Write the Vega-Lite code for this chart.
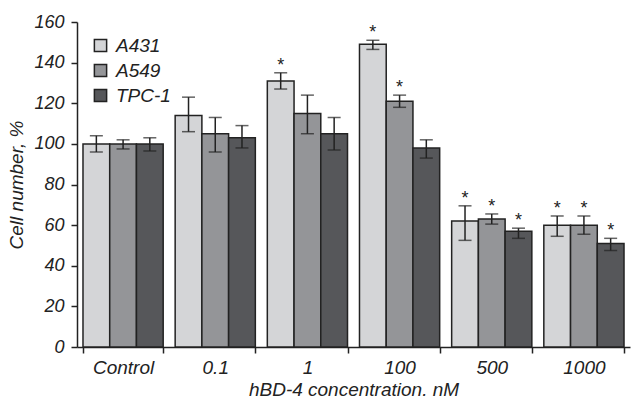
{
  "$schema": "https://vega.github.io/schema/vega-lite/v6.json",
  "width": 553,
  "height": 325,
  "autosize": {"type": "none"},
  "padding": {"left": 77, "top": 22, "right": 1, "bottom": 53},
  "background": "white",
  "config": {
    "font": "Liberation Sans, Arial, sans-serif",
    "view": {"stroke": null},
    "axis": {"grid": false, "domainColor": "#222", "tickColor": "#222", "domainWidth": 1.5, "tickWidth": 1.5, "labelColor": "#222", "titleColor": "#222", "labelFontStyle": "italic", "titleFontStyle": "italic", "titleFontWeight": "normal", "labelFontSize": 18, "titleFontSize": 19}
  },
  "data": {
    "values": [
      {"conc": "Control", "line": "A431", "value": 100, "lo": 96, "hi": 104, "sig": false},
      {"conc": "Control", "line": "A549", "value": 100, "lo": 97.5, "hi": 102, "sig": false},
      {"conc": "Control", "line": "TPC-1", "value": 100, "lo": 96.5, "hi": 103, "sig": false},
      {"conc": "0.1", "line": "A431", "value": 114, "lo": 106, "hi": 123, "sig": false},
      {"conc": "0.1", "line": "A549", "value": 105, "lo": 96, "hi": 113, "sig": false},
      {"conc": "0.1", "line": "TPC-1", "value": 103, "lo": 98, "hi": 109, "sig": false},
      {"conc": "1", "line": "A431", "value": 131, "lo": 127, "hi": 135, "sig": true},
      {"conc": "1", "line": "A549", "value": 115, "lo": 105, "hi": 124, "sig": false},
      {"conc": "1", "line": "TPC-1", "value": 105, "lo": 97, "hi": 113, "sig": false},
      {"conc": "100", "line": "A431", "value": 149, "lo": 146.5, "hi": 151, "sig": true},
      {"conc": "100", "line": "A549", "value": 121, "lo": 118, "hi": 124, "sig": true},
      {"conc": "100", "line": "TPC-1", "value": 98, "lo": 93, "hi": 102, "sig": false},
      {"conc": "500", "line": "A431", "value": 62, "lo": 52.5, "hi": 69.5, "sig": true},
      {"conc": "500", "line": "A549", "value": 63, "lo": 60.5, "hi": 65.5, "sig": true},
      {"conc": "500", "line": "TPC-1", "value": 57, "lo": 53.5, "hi": 58.5, "sig": true},
      {"conc": "1000", "line": "A431", "value": 60, "lo": 54.5, "hi": 64.5, "sig": true},
      {"conc": "1000", "line": "A549", "value": 60, "lo": 55.5, "hi": 64.5, "sig": true},
      {"conc": "1000", "line": "TPC-1", "value": 51, "lo": 47.5, "hi": 53.5, "sig": true}
    ]
  },
  "encoding": {
    "x": {
      "field": "conc", "type": "nominal",
      "sort": ["Control", "0.1", "1", "100", "500", "1000"],
      "scale": {"paddingInner": 0.13, "paddingOuter": 0.065},
      "axis": {"title": "hBD-4 concentration. nM", "labelAngle": 0, "tickBand": "extent", "tickSize": 6, "labelPadding": 5, "labelFontSize": 19, "titlePadding": 3, "titleFontSize": 19}
    },
    "xOffset": {"field": "line", "type": "nominal", "sort": ["A431", "A549", "TPC-1"]}
  },
  "layer": [
    {
      "mark": {"type": "bar", "stroke": "#222", "strokeWidth": 1.5},
      "encoding": {
        "y": {
          "field": "value", "type": "quantitative",
          "scale": {"domain": [0, 160]},
          "axis": {"title": "Cell number, %", "values": [0, 20, 40, 60, 80, 100, 120, 140, 160], "tickSize": 6, "labelPadding": 7, "labelFontStyle": "italic", "titlePadding": 7, "titleFontSize": 19}
        },
        "color": {
          "field": "line", "type": "nominal",
          "scale": {"domain": ["A431", "A549", "TPC-1"], "range": ["#d4d5d7", "#949598", "#56575a"]},
          "legend": {
            "title": null, "orient": "top-left", "offset": 14,
            "symbolType": "square", "symbolSize": 150, "symbolStrokeColor": "#222", "symbolStrokeWidth": 1.5, "symbolOpacity": 1,
            "labelFontSize": 19, "labelFontStyle": "italic", "labelColor": "#222", "rowPadding": 5, "labelOffset": 6, "padding": 0
          }
        }
      }
    },
    {
      "mark": {"type": "rule", "color": "#222", "strokeWidth": 1.5},
      "encoding": {
        "y": {"field": "lo", "type": "quantitative"},
        "y2": {"field": "hi"}
      }
    },
    {
      "mark": {"type": "tick", "color": "#222", "thickness": 1.5, "size": 13, "orient": "horizontal"},
      "encoding": {"y": {"field": "lo", "type": "quantitative"}}
    },
    {
      "mark": {"type": "tick", "color": "#222", "thickness": 1.5, "size": 13, "orient": "horizontal"},
      "encoding": {"y": {"field": "hi", "type": "quantitative"}}
    },
    {
      "transform": [{"filter": "datum.sig"}],
      "mark": {"type": "text", "text": "*", "fontSize": 18, "color": "#222", "dy": 2, "baseline": "bottom"},
      "encoding": {"y": {"field": "hi", "type": "quantitative"}}
    }
  ]
}
